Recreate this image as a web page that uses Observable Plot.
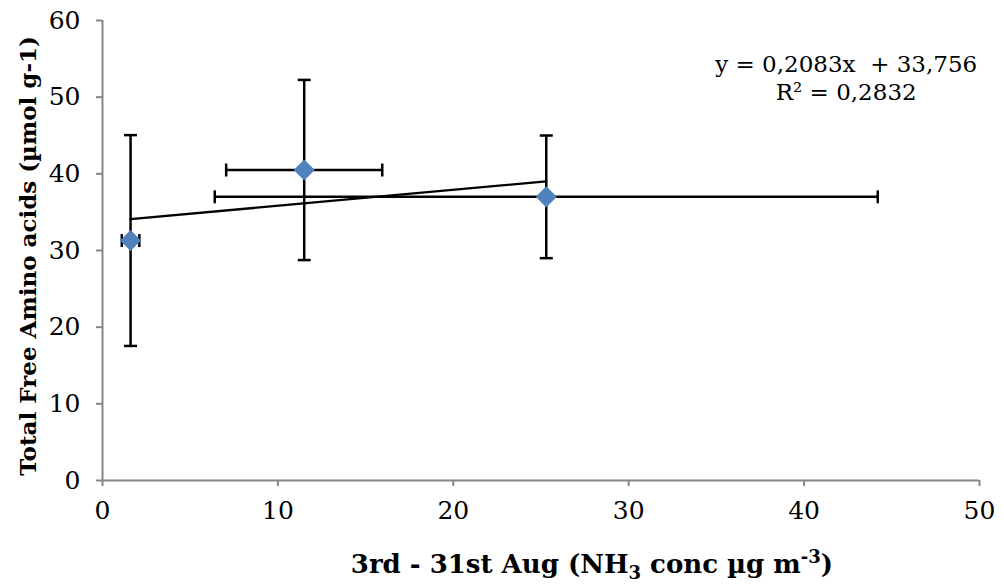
<!DOCTYPE html>
<html>
<head>
<meta charset="utf-8">
<script src="https://cdn.jsdelivr.net/npm/d3@7"></script>
<script src="https://cdn.jsdelivr.net/npm/@observablehq/plot@0.6"></script>
<style>
  body { margin: 0; background: #fff; }
  #chart svg { display: block; }
</style>
</head>
<body>
<div id="chart"></div>
<script>
// NH3 concentration (x) vs. total free amino acids (y), with standard deviations
const nh3 = [1.6, 11.5, 25.3];
const aminoAcids = [31.3, 40.5, 37.0];
const nh3Err = [0.5, 4.45, 18.9];
const aminoErr = [13.75, 11.75, 8.0];

// Linear trend line reported on the chart
const slope = 0.2083;
const intercept = 33.756;
const rSquared = 0.2832;

const xTicks = [0, 10, 20, 30, 40, 50];
const yTicks = [0, 10, 20, 30, 40, 50, 60];

const points = nh3.map((x, i) => ({x, y: aminoAcids[i], ex: nh3Err[i], ey: aminoErr[i]}));
const trend = d3.extent(nh3).map(x => ({x, y: slope * x + intercept}));

const comma = v => String(v).replace(".", ",");
const equation = `y = ${comma(slope)}x\u00a0 + ${comma(intercept)}\nR² = ${comma(rSquared)}`;

// Error bar caps: short strokes centred on each bar end
const capH = {draw(ctx) { ctx.moveTo(-6.5, 0); ctx.lineTo(6.5, 0); }};
const capV = {draw(ctx) { ctx.moveTo(0, -6.5); ctx.lineTo(0, 6.5); }};

const axisGray = "#868686";
const serif = "DejaVu Serif";
const barWidth = 2.5;

const plot = Plot.plot({
  width: 1004,
  height: 584,
  marginLeft: 102,
  marginRight: 25,
  marginTop: 20,
  marginBottom: 104,
  style: {fontFamily: serif, fontSize: "25px", background: "#fff", color: "#000"},
  x: {domain: [0, 50]},
  y: {domain: [0, 60]},
  marks: [
    Plot.axisX(xTicks, {tickSize: 6, tickPadding: 15, stroke: axisGray, strokeWidth: 2, fill: "#000", fontSize: 25, label: null}),
    Plot.axisY(yTicks, {tickSize: 6, tickPadding: 16, stroke: axisGray, strokeWidth: 2, fill: "#000", fontSize: 25, label: null}),
    Plot.ruleY([0], {stroke: axisGray, strokeWidth: 2}),
    Plot.ruleX([0], {stroke: axisGray, strokeWidth: 2}),
    // vertical error bars
    Plot.ruleX(points, {x: "x", y1: d => d.y - d.ey, y2: d => d.y + d.ey, stroke: "#000", strokeWidth: barWidth}),
    Plot.dot(points, {x: "x", y: d => d.y - d.ey, symbol: capH, fill: "none", stroke: "#000", strokeWidth: barWidth}),
    Plot.dot(points, {x: "x", y: d => d.y + d.ey, symbol: capH, fill: "none", stroke: "#000", strokeWidth: barWidth}),
    // horizontal error bars
    Plot.ruleY(points, {y: "y", x1: d => d.x - d.ex, x2: d => d.x + d.ex, stroke: "#000", strokeWidth: barWidth}),
    Plot.dot(points, {x: d => d.x - d.ex, y: "y", symbol: capV, fill: "none", stroke: "#000", strokeWidth: barWidth}),
    Plot.dot(points, {x: d => d.x + d.ex, y: "y", symbol: capV, fill: "none", stroke: "#000", strokeWidth: barWidth}),
    // linear trend line
    Plot.line(trend, {x: "x", y: "y", stroke: "#000", strokeWidth: 2.3}),
    // data points
    Plot.dot(points, {x: "x", y: "y", symbol: "diamond2", r: 9.5, fill: "#4F81BD", stroke: "none"}),
    // trend equation
    Plot.text([equation], {x: 42.4, y: 56.0, text: d => d, textAnchor: "middle", lineAnchor: "top", lineHeight: 1.25, fontSize: 23, fill: "#000"})
  ]
});

document.getElementById("chart").appendChild(plot);

// Axis titles (with sub/superscripts)
const svg = d3.select(plot);
const ys = plot.scale("y");

const xTitle = svg.append("text")
  .attr("x", 592).attr("y", 573)
  .attr("text-anchor", "middle")
  .attr("font-family", serif).attr("font-weight", "bold").attr("font-size", 26)
  .attr("fill", "#000");
xTitle.append("tspan").text("3rd - 31st Aug (NH");
xTitle.append("tspan").attr("dy", 6).attr("font-size", 18).text("3");
xTitle.append("tspan").attr("dy", -6).text(" conc µg m");
xTitle.append("tspan").attr("dy", -10).attr("font-size", 18).text("-3");
xTitle.append("tspan").attr("dy", 10).text(")");

const yMid = (ys.apply(0) + ys.apply(60)) / 2 + 6;
svg.append("text")
  .attr("transform", `translate(36,${yMid}) rotate(-90)`)
  .attr("text-anchor", "middle")
  .attr("font-family", serif).attr("font-weight", "bold").attr("font-size", 23)
  .attr("fill", "#000")
  .text("Total Free Amino acids (µmol g-1)");
</script>
</body>
</html>
